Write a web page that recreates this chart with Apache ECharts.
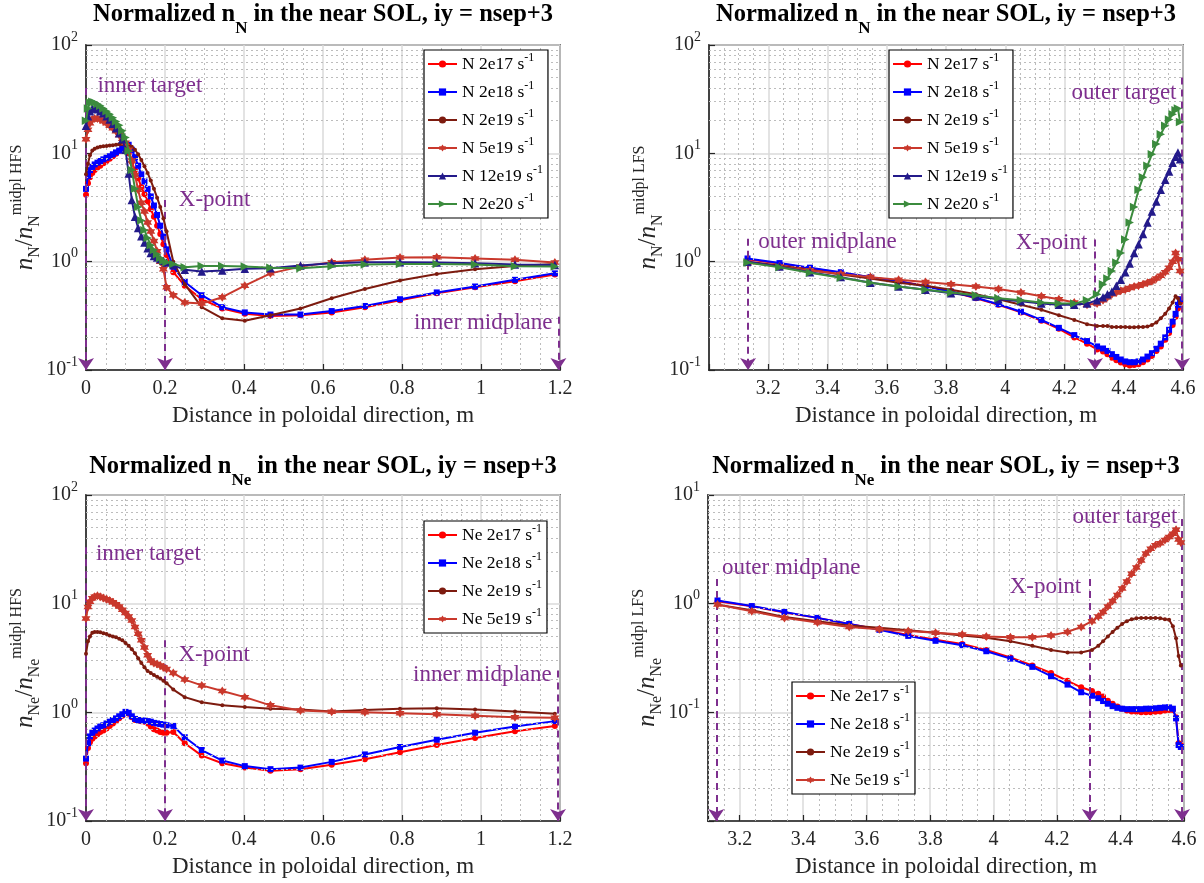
<!DOCTYPE html>
<html><head><meta charset="utf-8">
<script src="https://cdn.jsdelivr.net/npm/echarts@6/dist/echarts.min.js"></script>
<style>html,body{margin:0;padding:0;background:#fff}#c{width:1204px;height:883px}</style>
</head><body><div id="c"></div>
<script>
// ---------------- DATA ----------------
const INNER_X = [0, 0.005, 0.010, 0.016, 0.022, 0.029, 0.036, 0.044, 0.052, 0.060, 0.068, 0.076, 0.084, 0.092, 0.100, 0.108, 0.116, 0.124, 0.132, 0.140, 0.148, 0.156, 0.164, 0.172, 0.180, 0.188, 0.196, 0.204, 0.221, 0.250, 0.293, 0.345, 0.402, 0.467, 0.543, 0.622, 0.706, 0.795, 0.888, 0.985, 1.086, 1.187];
const OUTER_X = [3.13, 3.238, 3.341, 3.445, 3.545, 3.64, 3.731, 3.817, 3.901, 3.977, 4.053, 4.122, 4.181, 4.233, 4.276, 4.31, 4.33, 4.345, 4.36, 4.375, 4.39, 4.405, 4.42, 4.435, 4.45, 4.465, 4.48, 4.495, 4.51, 4.525, 4.54, 4.553, 4.565, 4.575, 4.583, 4.59];

// N, inner (HFS) side
const N_HFS_2E17  = [4.15, 5.3, 6.0, 6.6, 7.0, 7.4, 7.7, 8.1, 8.5, 8.9, 9.4, 9.9, 10.5, 11.3, 11.6, 10.0, 8.3, 7.0, 5.9, 4.9, 4.2, 3.6, 3.05, 2.6, 2.15, 1.8, 1.45, 1.15, 0.8, 0.6, 0.45, 0.37, 0.33, 0.315, 0.32, 0.34, 0.38, 0.44, 0.51, 0.58, 0.66, 0.76];
const N_HFS_2E18  = [4.7, 6.2, 7.0, 7.5, 7.9, 8.2, 8.5, 8.8, 9.1, 9.4, 9.8, 10.2, 10.6, 11.1, 11.6, 12.0, 10.8, 9.2, 7.7, 6.4, 5.5, 4.7, 4.0, 3.3, 2.7, 2.15, 1.7, 1.3, 0.9, 0.65, 0.49, 0.38, 0.34, 0.325, 0.325, 0.35, 0.39, 0.45, 0.52, 0.59, 0.68, 0.78];
const N_HFS_2E19  = [6.4, 8.0, 9.6, 10.6, 11.0, 11.3, 11.5, 11.6, 11.7, 11.8, 11.9, 12.0, 12.1, 12.2, 12.2, 12.0, 11.5, 10.8, 9.8, 8.7, 7.6, 6.6, 5.6, 4.7, 3.9, 3.2, 2.5, 1.9, 1.0, 0.62, 0.38, 0.30, 0.285, 0.32, 0.37, 0.46, 0.56, 0.67, 0.77, 0.85, 0.91, 0.95];
const N_HFS_5E19  = [13.5, 16.5, 19, 20.5, 21, 21, 20.5, 19.8, 19, 18, 17, 16, 14.8, 13.6, 12.5, 10.8, 8.6, 6.3, 4.6, 3.5, 2.9, 2.3, 1.9, 1.55, 1.25, 1.0, 0.85, 0.58, 0.49, 0.42, 0.41, 0.47, 0.60, 0.78, 0.90, 0.99, 1.04, 1.09, 1.10, 1.07, 1.04, 0.98];
const N_HFS_12E19 = [18, 22, 24.5, 26, 26, 25.5, 24.5, 23.5, 22, 20.5, 18.8, 17, 15.3, 13.5, 10.8, 6.5, 3.7, 2.6, 2.05, 1.72, 1.5, 1.33, 1.2, 1.13, 1.09, 1.06, 1.02, 0.98, 0.93, 0.84, 0.81, 0.83, 0.86, 0.87, 0.92, 0.965, 0.99, 0.99, 0.98, 0.965, 0.94, 0.93];
const N_HFS_2E20  = [20, 26, 29.5, 30, 29.5, 28.5, 27.5, 26, 24.5, 23, 21.3, 19.7, 18.2, 16.2, 14, 10.5, 7.0, 4.7, 3.2, 2.4, 1.95, 1.65, 1.42, 1.28, 1.17, 1.08, 1.02, 0.99, 0.95, 0.89, 0.91, 0.91, 0.90, 0.88, 0.87, 0.905, 0.94, 0.95, 0.95, 0.94, 0.905, 0.9];

// N, outer (LFS) side
const N_LFS_2E17  = [1.05, 0.96, 0.87, 0.79, 0.72, 0.66, 0.6, 0.53, 0.46, 0.4, 0.34, 0.285, 0.24, 0.2, 0.175, 0.155, 0.148, 0.14, 0.13, 0.123, 0.117, 0.113, 0.11, 0.111, 0.113, 0.118, 0.125, 0.135, 0.15, 0.165, 0.19, 0.22, 0.26, 0.31, 0.37, 0.42];
const N_LFS_2E18  = [1.07, 0.97, 0.88, 0.8, 0.72, 0.66, 0.59, 0.53, 0.465, 0.405, 0.345, 0.29, 0.245, 0.21, 0.185, 0.165, 0.158, 0.15, 0.14, 0.132, 0.125, 0.12, 0.118, 0.118, 0.12, 0.125, 0.133, 0.143, 0.157, 0.175, 0.2, 0.235, 0.28, 0.33, 0.4, 0.45];
const N_LFS_2E19  = [1.0, 0.92, 0.84, 0.76, 0.7, 0.64, 0.6, 0.55, 0.5, 0.45, 0.4, 0.36, 0.32, 0.29, 0.265, 0.255, 0.255, 0.255, 0.25, 0.25, 0.25, 0.25, 0.248, 0.248, 0.25, 0.25, 0.252, 0.26, 0.275, 0.3, 0.33, 0.37, 0.42, 0.48, 0.46, 0.41];
const N_LFS_5E19  = [0.98, 0.9, 0.83, 0.77, 0.72, 0.68, 0.65, 0.62, 0.59, 0.56, 0.52, 0.48, 0.45, 0.42, 0.4, 0.41, 0.44, 0.47, 0.5, 0.52, 0.54, 0.55, 0.57, 0.59, 0.6, 0.62, 0.64, 0.66, 0.7, 0.74, 0.8, 0.88, 1.0, 1.2, 1.05, 0.82];
const N_LFS_12E19 = [1.0, 0.9, 0.8, 0.72, 0.64, 0.59, 0.55, 0.51, 0.48, 0.45, 0.43, 0.41, 0.4, 0.4, 0.41, 0.44, 0.47, 0.5, 0.53, 0.6, 0.68, 0.8, 0.96, 1.2, 1.45, 1.8, 2.3, 2.9, 3.6, 4.6, 5.7, 6.8, 8.2, 9.3, 10.2, 8.8];
const N_LFS_2E20  = [0.98, 0.89, 0.79, 0.71, 0.64, 0.59, 0.55, 0.52, 0.49, 0.46, 0.44, 0.42, 0.41, 0.41, 0.44, 0.5, 0.62, 0.7, 0.82, 0.98, 1.2, 1.6, 2.3, 3.2, 4.6, 6.0, 7.7, 9.8, 12.2, 15, 18, 20.5, 23, 25, 26, 19.5];

// Ne, inner (HFS) side
const NE_HFS_2E17 = [0.34, 0.47, 0.53, 0.57, 0.60, 0.63, 0.66, 0.68, 0.71, 0.75, 0.79, 0.83, 0.88, 0.93, 0.99, 0.97, 0.90, 0.85, 0.84, 0.83, 0.82, 0.79, 0.74, 0.70, 0.68, 0.66, 0.65, 0.65, 0.66, 0.52, 0.40, 0.34, 0.31, 0.29, 0.30, 0.33, 0.37, 0.43, 0.50, 0.58, 0.67, 0.75];
const NE_HFS_2E18 = [0.375, 0.52, 0.60, 0.65, 0.68, 0.71, 0.74, 0.76, 0.79, 0.82, 0.85, 0.88, 0.92, 0.96, 1.01, 0.99, 0.92, 0.87, 0.85, 0.84, 0.84, 0.83, 0.82, 0.80, 0.79, 0.78, 0.77, 0.76, 0.75, 0.59, 0.45, 0.36, 0.32, 0.30, 0.31, 0.35, 0.41, 0.48, 0.56, 0.65, 0.74, 0.83];
const NE_HFS_2E19 = [3.46, 4.5, 5.0, 5.4, 5.5, 5.5, 5.45, 5.35, 5.25, 5.1, 5.0, 4.9, 4.75, 4.6, 4.35, 4.1, 3.8, 3.5, 3.15, 2.85, 2.6, 2.4, 2.3, 2.2, 2.12, 2.05, 1.95, 1.85, 1.62, 1.38, 1.24, 1.16, 1.12, 1.08, 1.06, 1.02, 1.05, 1.08, 1.09, 1.06, 1.02, 0.97];
const NE_HFS_5E19 = [7.3, 9.3, 10.4, 11.2, 11.6, 11.8, 11.6, 11.3, 11.0, 10.7, 10.3, 9.9, 9.4, 8.8, 8.2, 7.6, 7.0, 6.1, 5.3, 4.6, 3.95, 3.35, 3.0, 2.85, 2.78, 2.7, 2.6, 2.5, 2.3, 2.0, 1.77, 1.57, 1.38, 1.16, 1.04, 1.01, 1.0, 0.98, 0.96, 0.93, 0.9, 0.89];

// Ne, outer (LFS) side
const NE_LFS_2E17 = [1.05, 0.945, 0.83, 0.74, 0.65, 0.58, 0.515, 0.465, 0.425, 0.375, 0.32, 0.27, 0.23, 0.195, 0.17, 0.157, 0.148, 0.14, 0.128, 0.12, 0.113, 0.108, 0.104, 0.102, 0.101, 0.1, 0.1, 0.1, 0.101, 0.102, 0.104, 0.105, 0.105, 0.09, 0.052, 0.05];
const NE_LFS_2E18 = [1.07, 0.95, 0.84, 0.74, 0.65, 0.575, 0.505, 0.455, 0.415, 0.365, 0.312, 0.262, 0.215, 0.18, 0.153, 0.142, 0.135, 0.127, 0.12, 0.114, 0.11, 0.108, 0.107, 0.107, 0.107, 0.107, 0.108, 0.108, 0.109, 0.11, 0.111, 0.111, 0.108, 0.088, 0.05, 0.048];
const NE_LFS_2E19 = [0.98, 0.87, 0.755, 0.69, 0.63, 0.6, 0.57, 0.54, 0.51, 0.485, 0.45, 0.41, 0.374, 0.356, 0.356, 0.374, 0.41, 0.45, 0.5, 0.55, 0.6, 0.65, 0.69, 0.72, 0.735, 0.74, 0.74, 0.74, 0.74, 0.735, 0.72, 0.71, 0.62, 0.48, 0.33, 0.27];
const NE_LFS_5E19 = [0.98, 0.85, 0.74, 0.67, 0.61, 0.58, 0.56, 0.54, 0.52, 0.5, 0.49, 0.49, 0.51, 0.55, 0.61, 0.69, 0.76, 0.84, 0.94, 1.06, 1.2, 1.38, 1.6, 1.88, 2.15, 2.5, 2.9, 3.2, 3.45, 3.6, 3.85, 4.1, 4.4, 4.8, 3.9, 3.65];

const RATES_N  = ['2e17', '2e18', '2e19', '5e19', '12e19', '2e20'];
const RATES_NE = ['2e17', '2e18', '2e19', '5e19'];
const X_LABEL = 'Distance in poloidal direction, m';
const TITLE_SPECIES = ['N', 'N', 'Ne', 'Ne'];
const Y_SPECIES = ['N', 'N', 'Ne', 'Ne'];
const Y_SIDE = ['HFS', 'LFS', 'HFS', 'LFS'];

// ---------------- STYLE / LAYOUT ----------------
const FONT = "'Liberation Serif','Times New Roman',serif";
const PURPLE = '#7E2F8E';
const AX = '#262626';
const HEX = 'path://M10,0 L12.9,5 L18.66,5 L15.8,10 L18.66,15 L12.9,15 L10,20 L7.1,15 L1.34,15 L4.2,10 L1.34,5 L7.1,5 Z';
const RTRI = 'path://M0,0 L10,5 L0,10 Z';
const STY = {
  '2e17':  {color: '#FF0000', symbol: 'circle',   size: 6},
  '2e18':  {color: '#0000FF', symbol: 'rect',     size: 6},
  '2e19':  {color: '#7D1B0F', symbol: 'circle',   size: 4},
  '5e19':  {color: '#C9382C', symbol: HEX,        size: 9},
  '12e19': {color: '#231A8A', symbol: 'triangle', size: 8.5},
  '2e20':  {color: '#3B8B3D', symbol: RTRI,       size: 8.5}
};
const GRIDS = [
  {left: 86,  top: 45,  width: 474, height: 325},
  {left: 709, top: 45,  width: 474, height: 325},
  {left: 86,  top: 495, width: 474, height: 326},
  {left: 708, top: 495, width: 476, height: 326}
];
const XR = [
  {min: 0, max: 1.2, interval: 0.2},
  {min: 3.0, max: 4.6, interval: 0.2, hideBelow: 3.1},
  {min: 0, max: 1.2, interval: 0.2},
  {min: 3.1, max: 4.6, minInterval: 0.2, maxInterval: 0.2, hideBelow: 3.15}
];
const YR = [
  {min: 0.1, max: 100}, {min: 0.1, max: 100}, {min: 0.1, max: 100}, {min: 0.01, max: 10, hideBelow: 0.05}
];
const LEGENDS = [
  {left: 424, top: 50}, {left: 889, top: 50}, {left: 424, top: 521}, {left: 792, top: 682}
];
const ANN = [
  {arrows: [[0, 40, 0.1], [0.2, 3.7, 0.1], [1.196, 0.31, 0.1]],
   texts: [[0.029, 42, 'inner target', 'left'], [0.235, 3.7, 'X-point', 'left'], [1.181, 0.27, 'inner midplane', 'right']]},
  {arrows: [[3.132, 1.63, 0.1], [4.303, 1.6, 0.1], [4.597, 50, 0.1]],
   texts: [[3.166, 1.51, 'outer midplane', 'left'], [4.277, 1.5, 'X-point', 'right'], [4.578, 36, 'outer target', 'right']]},
  {arrows: [[0, 33, 0.1], [0.2, 4.6, 0.1], [1.195, 2.43, 0.1]],
   texts: [[0.025, 28.4, 'inner target', 'left'], [0.234, 3.35, 'X-point', 'left'], [1.179, 2.19, 'inner midplane', 'right']]},
  {arrows: [[3.126, 1.69, 0.01], [4.303, 1.69, 0.01], [4.594, 6.0, 0.01]],
   texts: [[3.144, 2.12, 'outer midplane', 'left'], [4.276, 1.42, 'X-point', 'right'], [4.579, 6.3, 'outer target', 'right']]}
];

const DATA = [
  {x: INNER_X, sp: 'N',  ys: [N_HFS_2E17, N_HFS_2E18, N_HFS_2E19, N_HFS_5E19, N_HFS_12E19, N_HFS_2E20], rates: RATES_N},
  {x: OUTER_X, sp: 'N',  ys: [N_LFS_2E17, N_LFS_2E18, N_LFS_2E19, N_LFS_5E19, N_LFS_12E19, N_LFS_2E20], rates: RATES_N},
  {x: INNER_X, sp: 'Ne', ys: [NE_HFS_2E17, NE_HFS_2E18, NE_HFS_2E19, NE_HFS_5E19], rates: RATES_NE},
  {x: OUTER_X, sp: 'Ne', ys: [NE_LFS_2E17, NE_LFS_2E18, NE_LFS_2E19, NE_LFS_5E19], rates: RATES_NE}
];

// ---------------- BUILD ----------------
function minorY(min, max) {
  const out = [];
  for (let e = Math.round(Math.log10(min)); e < Math.round(Math.log10(max)); e++)
    for (let k = 2; k <= 9; k++) out.push({yAxis: k * Math.pow(10, e)});
  return out;
}
function minorX(min, max) {
  const out = [];
  for (let i = Math.ceil(min / 0.05 - 1e-6); i <= Math.floor(max / 0.05 + 1e-6); i++) {
    if (i % 4 === 0) continue;
    out.push({xAxis: +(i * 0.05).toFixed(3)});
  }
  return out;
}

const grid = [], xAxis = [], yAxis = [], series = [], legend = [], graphic = [];

GRIDS.forEach((g, gi) => {
  grid.push(Object.assign({show: true, borderColor: AX, borderWidth: 1.6, backgroundColor: '#fff'}, g));
  const xr = XR[gi], yr = YR[gi];
  const xa = {
    gridIndex: gi, type: 'value', min: xr.min, max: xr.max,
    axisLine: {show: true, onZero: false, lineStyle: {color: AX, width: 1.6}},
    axisTick: {show: true, inside: true, length: 6, lineStyle: {color: AX, width: 1.2}},
    axisLabel: {fontFamily: FONT, fontSize: 20, color: AX, margin: 9,
      formatter: v => (xr.hideBelow && v < xr.hideBelow) ? '' : String(+v.toFixed(2))},
    splitLine: {show: true, lineStyle: {color: '#dadada', width: 1.5}},
    name: X_LABEL, nameLocation: 'middle', nameGap: 34,
    nameTextStyle: {fontFamily: FONT, fontSize: 23, color: AX}
  };
  if (xr.interval) xa.interval = xr.interval;
  if (xr.minInterval) { xa.minInterval = xr.minInterval; xa.maxInterval = xr.maxInterval; xa.splitNumber = 7; }
  xAxis.push(xa);

  const sp = Y_SPECIES[gi];
  yAxis.push({
    gridIndex: gi, type: 'log', logBase: 10, min: yr.min, max: yr.max,
    axisLine: {show: true, lineStyle: {color: AX, width: 1.6}},
    axisTick: {show: true, inside: true, length: 6, lineStyle: {color: AX, width: 1.2}},
    axisLabel: {fontFamily: FONT, color: AX, margin: 8,
      formatter: v => (yr.hideBelow && v < yr.hideBelow) ? '' : '{b|10}{s|' + Math.round(Math.log10(v)) + '}',
      rich: {b: {fontFamily: FONT, fontSize: 20, color: AX, lineHeight: 30},
             s: {fontFamily: FONT, fontSize: 14, color: AX, lineHeight: 14, verticalAlign: 'top'}}},
    splitLine: {show: true, lineStyle: {color: '#dadada', width: 1.5}},
    name: '{i|n}{sb|' + sp + '}{t|/}{i|n}{sb|' + sp + '}{sp|midpl ' + Y_SIDE[gi] + '}',
    nameLocation: 'middle', nameGap: 38, nameRotate: 90,
    nameTextStyle: {rich: {
      i:  {fontFamily: FONT, fontStyle: 'italic', fontSize: 25, color: AX, lineHeight: 34, verticalAlign: 'middle'},
      t:  {fontFamily: FONT, fontSize: 25, color: AX, lineHeight: 34, verticalAlign: 'middle'},
      sb: {fontFamily: FONT, fontSize: 16, color: AX, lineHeight: 16, verticalAlign: 'bottom'},
      sp: {fontFamily: FONT, fontSize: 16, color: AX, lineHeight: 16, verticalAlign: 'top'}
    }}
  });

  // minor grid lines (dotted)
  series.push({
    type: 'line', name: '_minor' + gi, xAxisIndex: gi, yAxisIndex: gi, data: [], silent: true, z: 1,
    markLine: {silent: true, symbol: ['none', 'none'], animation: false, label: {show: false},
      lineStyle: {color: '#bcbcbc', width: 1, type: [2, 3]},
      emphasis: {disabled: true},
      data: minorX(xr.min, xr.max).concat(minorY(yr.min, yr.max))}
  });

  // data series
  const d = DATA[gi];
  d.rates.forEach((r, k) => {
    const s = STY[r];
    series.push({
      type: 'line', name: d.sp + ' ' + r, xAxisIndex: gi, yAxisIndex: gi,
      data: d.x.map((x, i) => [x, d.ys[k][i]]),
      symbol: s.symbol, symbolSize: s.size, showAllSymbol: true,
      lineStyle: {color: s.color, width: 2},
      itemStyle: {color: s.color, borderWidth: 0},
      emphasis: {disabled: true}, z: 3 + k, animation: false
    });
  });

  // annotations (arrows + texts)
  const a = ANN[gi];
  series.push({
    type: 'line', name: '_ann' + gi, xAxisIndex: gi, yAxisIndex: gi, data: [], silent: true, z: 2, clip: false,
    markLine: {silent: true, animation: false, symbol: ['none', 'arrow'], symbolSize: 12,
      label: {show: false}, emphasis: {disabled: true},
      lineStyle: {color: PURPLE, width: 2, type: [7, 5]},
      data: a.arrows.map(ar => [{coord: [ar[0], ar[1]]}, {coord: [ar[0], ar[2]]}])}
  });
  series.push({
    type: 'line', name: '_txt' + gi, xAxisIndex: gi, yAxisIndex: gi, data: [], silent: true, z: 20, clip: false,
    markPoint: {silent: true, animation: false, symbol: 'circle', symbolSize: 0,
      itemStyle: {color: 'rgba(0,0,0,0)'},
      data: a.texts.map(t => ({coord: [t[0], t[1]], value: 0,
        label: {show: true, position: 'inside', align: t[3], verticalAlign: 'middle', formatter: t[2],
          fontFamily: FONT, fontSize: 23, color: PURPLE}}))}
  });

  legend.push({
    data: d.rates.map(r => d.sp + ' ' + r), left: LEGENDS[gi].left, top: LEGENDS[gi].top,
    orient: 'vertical', itemWidth: 29, itemHeight: 9, itemGap: 4, padding: [2, 5, 2, 3],
    backgroundColor: '#fff', borderColor: '#000', borderWidth: 1.2, borderRadius: 0,
    selectedMode: false, z: 30,
    formatter: n => n + ' s{sup|-1}',
    textStyle: {fontFamily: FONT, fontSize: 17.5, color: '#000', lineHeight: 24,
      rich: {sup: {fontFamily: FONT, fontSize: 12, color: '#000', lineHeight: 12, verticalAlign: 'top'}}}
  });

  // title
  graphic.push({
    type: 'text', x: g.left + g.width / 2, y: gi < 2 ? -7 : 445, z: 50, silent: true,
    style: {
      text: '{m|Normalized n}{s|' + TITLE_SPECIES[gi] + '}{m| in the near SOL, iy = nsep+3}',
      align: 'center', verticalAlign: 'top',
      rich: {
        m: {fontFamily: FONT, fontWeight: 'bold', fontSize: 24.5, fill: '#000', lineHeight: 44, verticalAlign: 'middle'},
        s: {fontFamily: FONT, fontWeight: 'bold', fontSize: 17, fill: '#000', lineHeight: 17, verticalAlign: 'bottom'}
      }
    }
  });
});

const chart = echarts.init(document.getElementById('c'), null, {renderer: 'canvas'});
chart.setOption({
  backgroundColor: '#fff', animation: false,
  grid, xAxis, yAxis, series, legend, graphic
});
</script>
</body></html>
